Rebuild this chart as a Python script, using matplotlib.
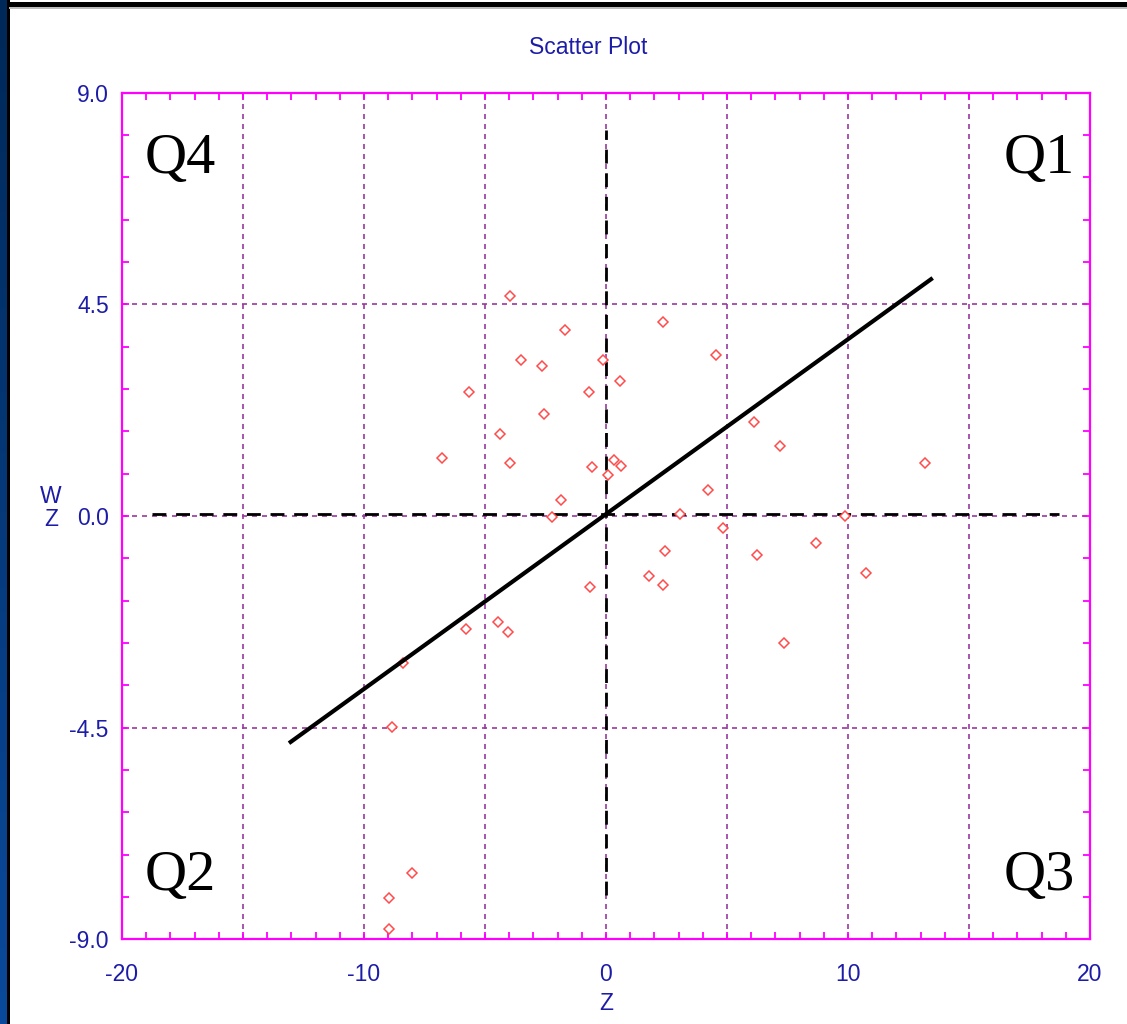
import matplotlib
matplotlib.use("Agg")
import matplotlib.pyplot as plt
import numpy as np
from matplotlib.ticker import MultipleLocator, FixedLocator, FuncFormatter
from matplotlib.colors import LinearSegmentedColormap

# ---- data ----
z_vals = [-3.96, -1.70, 2.35, -3.53, -2.65, -0.14, 4.54, -5.65, -0.71, 0.56,
          -2.58, -4.39, 6.11, 7.17, -6.77, -3.96, -0.59, 0.35, 0.61, 0.10,
          13.17, 4.23, -1.84, -2.23, 3.04, 4.85, 9.86, 2.42, 6.23, 8.67,
          1.77, 2.35, -0.65, 10.73, -5.78, -4.47, -4.03, 7.36, -8.38, -8.83,
          -8.02, -8.98, -8.98]
w_vals = [4.67, 3.96, 4.13, 3.32, 3.18, 3.32, 3.42, 2.64, 2.64, 2.87,
          2.16, 1.74, 1.99, 1.48, 1.23, 1.13, 1.04, 1.20, 1.07, 0.88,
          1.13, 0.55, 0.33, -0.02, 0.04, -0.26, 0.01, -0.74, -0.83, -0.58,
          -1.28, -1.47, -1.51, -1.22, -2.40, -2.25, -2.47, -2.70, -3.12, -4.49,
          -7.58, -8.13, -8.78]
fit_x = [-13.1, 13.5]
fit_y = [-4.83, 5.06]
hline_x = [-18.75, 18.7]
hline_y = [0.05, 0.05]
vline_x = [0.0, 0.0]
vline_y = [-8.05, 8.2]
x_major = [-20, -15, -10, -5, 0, 5, 10, 15, 20]
x_labeled = [-20, -10, 0, 10, 20]
y_major = [-9.0, -4.5, 0.0, 4.5, 9.0]
quadrants = ["Q4", "Q1", "Q2", "Q3"]

W, H = 1127, 1024
fig = plt.figure(figsize=(W / 100, H / 100), dpi=100)
fig.patch.set_facecolor("white")

# left blue stripe and top black line (window frame)
sax = fig.add_axes([0, 0, 7 / W, 1])
grad = np.linspace(0, 1, 256).reshape(-1, 1)
cm = LinearSegmentedColormap.from_list("frame", ["#0a4a9c", "#002858"])
sax.imshow(grad, aspect="auto", cmap=cm, origin="lower", extent=[0, 1, 0, 1])
sax.set_axis_off()
fig.add_artist(plt.Rectangle((7 / W, 0), 2.5 / W, 1, transform=fig.transFigure,
                             color="black", lw=0))
fig.add_artist(plt.Rectangle((7 / W, 1 - 7 / H), 1, 5 / H, transform=fig.transFigure,
                             color="black", lw=0))
fig.add_artist(plt.Rectangle((9 / W, 1 - 9 / H), 1, 2 / H, transform=fig.transFigure,
                             color="#bbbbbb", lw=0))

ax = fig.add_axes([122 / W, 1 - 939.3 / H, 968 / W, 846.6 / H])
ax.set_xlim(-20, 20)
ax.set_ylim(-9, 9)

blue = "#1c1ca8"
mag = "#ff00ff"
grid_c = "#9a3a9e"
tfs = 16.5

for s in ax.spines.values():
    s.set_color(mag)
    s.set_linewidth(1.6)

ax.xaxis.set_major_locator(FixedLocator(x_major))
ax.xaxis.set_minor_locator(MultipleLocator(1))
ax.yaxis.set_major_locator(FixedLocator(y_major))
ax.yaxis.set_minor_locator(MultipleLocator(0.9))
ax.xaxis.set_major_formatter(FuncFormatter(lambda v, p: f"{int(round(v))}" if int(round(v)) in x_labeled else ""))
ax.yaxis.set_major_formatter(FuncFormatter(lambda v, p: f"{v:.1f}".replace("\u2212", "-")))
ax.tick_params(which="both", direction="in", color=mag, top=True, right=True,
               width=1.3, length=5)
ax.tick_params(which="major", labelsize=tfs, labelcolor=blue, pad=9.5)
ax.tick_params(axis="x", which="major", pad=17)
for lab in ax.get_xticklabels() + ax.get_yticklabels():
    lab.set_fontfamily("Liberation Sans")

ax.grid(True, which="major", color=grid_c, linestyle=(0, (3, 3)), linewidth=1.2)

# quadrant dividers
ax.plot(hline_x, hline_y, color="black", lw=2.0, dashes=(5, 3.5), zorder=3)
ax.plot(vline_x, vline_y, color="black", lw=2.0, dashes=(5, 3.5), zorder=3)

# points
ax.plot(z_vals, w_vals, linestyle="none", marker="D", markersize=5.0,
        markerfacecolor="white", markeredgecolor="#ff4b4b", markeredgewidth=1.1, zorder=4)

# fitted line
ax.plot(fit_x, fit_y, color="black", lw=3.0, zorder=5, solid_capstyle="butt")

# quadrant labels
qfont = dict(fontfamily="Liberation Serif", fontsize=42, color="black")
ax.text(0.0238, 0.905, quadrants[0], transform=ax.transAxes, ha="left", va="baseline", **qfont)
ax.text(0.9845, 0.905, quadrants[1], transform=ax.transAxes, ha="right", va="baseline", **qfont)
ax.text(0.0238, 0.058, quadrants[2], transform=ax.transAxes, ha="left", va="baseline", **qfont)
ax.text(0.9845, 0.058, quadrants[3], transform=ax.transAxes, ha="right", va="baseline", **qfont)

# title and axis labels
fig.text(588 / W, 1 - 48 / H, "Scatter Plot", ha="center", va="center",
         fontfamily="Liberation Sans", fontsize=tfs, color=blue)
fig.text(606 / W, 1 - 1003 / H, "Z", ha="center", va="center",
         fontfamily="Liberation Sans", fontsize=tfs, color=blue)
fig.text(51 / W, 1 - 508 / H, "W\nZ", ha="center", va="center", linespacing=0.95,
         fontfamily="Liberation Sans", fontsize=tfs, color=blue)

fig.savefig("out.png", dpi=100)
